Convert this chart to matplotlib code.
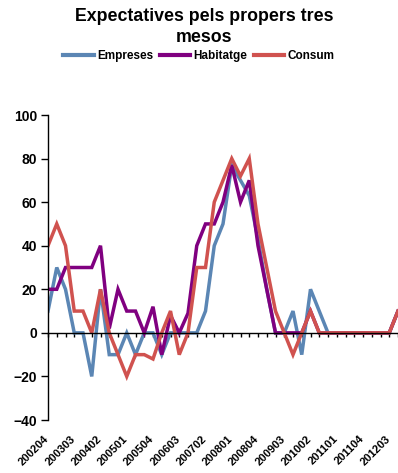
import matplotlib
matplotlib.use("Agg")
import matplotlib.pyplot as plt
import matplotlib.transforms as mtransforms

plt.rcParams['font.family'] = ['Liberation Sans', 'DejaVu Sans']

periods = [f"{y}{q:02d}" for y in range(2002, 2013) for q in (1, 2, 3, 4)][3:44]
tick_labels = periods[::3]

empreses = [10, 30, 20, 0, 0, -20, 20, -10, -10, 0, -10, 0, 0, -10, 0, 0, 0, 0, 10, 40,
            50, 77, 70, 63, 43, 20, 0, 0, 10, -10, 20, 10, 0, 0, 0, 0, 0, 0, 0, 0, 10]
habitatge = [20, 20, 30, 30, 30, 30, 40, 2, 20, 10, 10, 0, 12, -10, 8, 0, 9, 40, 50, 50,
             60, 77, 60, 70, 40, 20, 0, 0, 0, 0, 10, 0, 0, 0, 0, 0, 0, 0, 0, 0, 10]
consum = [40, 50, 40, 10, 10, 0, 20, 0, -10, -20, -10, -10, -12, 0, 10, -10, 0, 30, 30, 60,
          70, 80, 72, 80, 50, 30, 10, 0, -10, 0, 10, 0, 0, 0, 0, 0, 0, 0, 0, 0, 10]

series = [("Empreses", empreses, "#5B86B4"),
          ("Habitatge", habitatge, "#800080"),
          ("Consum", consum, "#D0524F")]

fig = plt.figure(figsize=(3.98, 4.73), dpi=100)
ax = fig.add_axes([48 / 398, 1 - 420 / 473, 1 - 48 / 398, (420 - 115) / 473])

x = list(range(len(periods)))
for name, vals, color in series:
    ax.plot(x, vals, color=color, lw=2.5, label=name, solid_joinstyle='miter')

ax.set_xlim(0, len(periods) - 1)
ax.set_ylim(-40, 100)
ax.set_yticks(range(-40, 101, 20))
ax.tick_params(axis='y', direction='out', length=5, width=1, pad=3,
               labelsize=10)
for lab in ax.get_yticklabels():
    lab.set_fontweight('bold')

ax.spines['top'].set_visible(False)
ax.spines['right'].set_visible(False)
ax.spines['bottom'].set_position(('data', 0))
ax.spines['left'].set_linewidth(1)
ax.spines['bottom'].set_linewidth(1)
ax.set_xticks(x)
ax.set_xticklabels([])
ax.tick_params(axis='x', direction='out', length=3, width=1)

trans = mtransforms.blended_transform_factory(ax.transData, ax.transAxes)
for i, lab in enumerate(tick_labels):
    ax.text(i * 3 - 0.5, -0.045, lab, transform=trans, rotation=45,
            ha='right', va='top', fontsize=8, fontweight='bold',
            rotation_mode='anchor')

fig.text(204 / 398, 1 - 27 / 473, "Expectatives pels propers tres\nmesos",
         ha='center', va='center', fontsize=12.8, fontweight='bold',
         linespacing=1.3)

leg = fig.legend(loc='center', bbox_to_anchor=(199 / 398, 1 - 56 / 473),
                 ncol=3, frameon=False, fontsize=8.5, handlelength=2.6,
                 handletextpad=0.3, columnspacing=0.5, borderpad=0)
for t in leg.get_texts():
    t.set_fontweight('bold')
for h in leg.get_lines():
    h.set_linewidth(3)

fig.savefig("out.png", dpi=100)
